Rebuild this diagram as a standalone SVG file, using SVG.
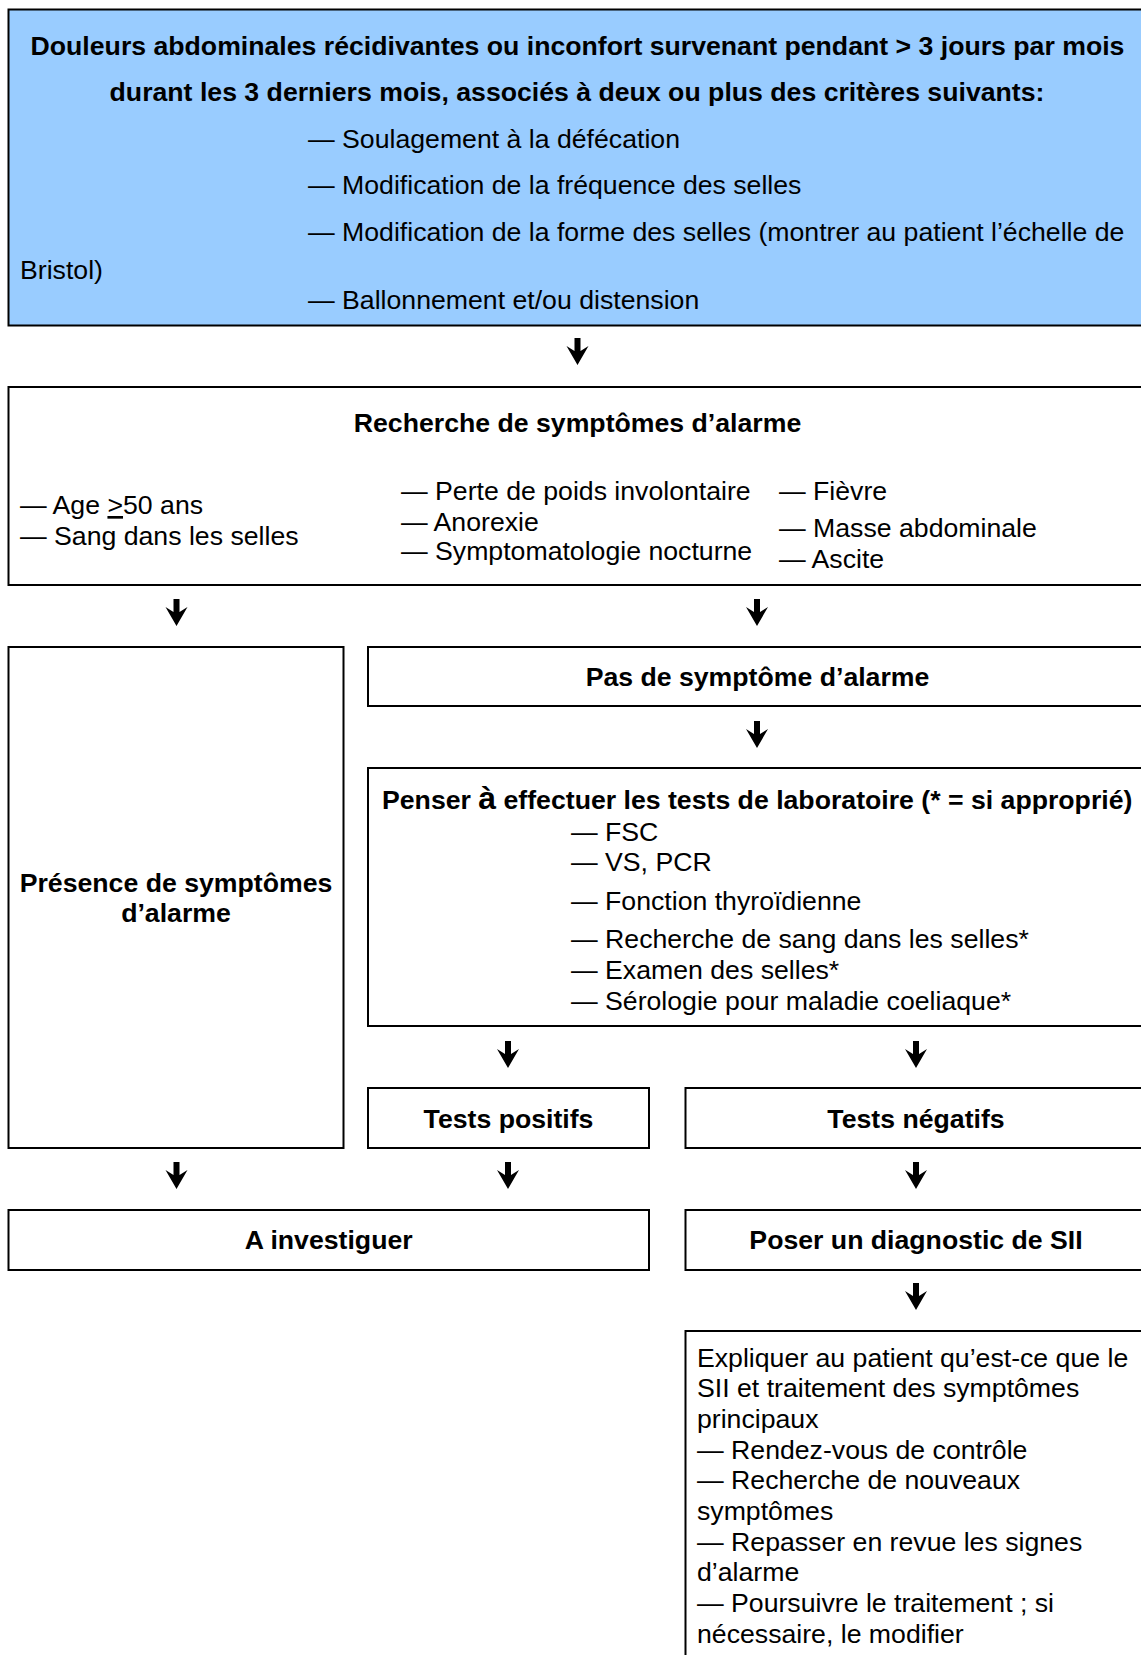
<svg xmlns="http://www.w3.org/2000/svg" xmlns:xlink="http://www.w3.org/1999/xlink" width="1141" height="1655" viewBox="0 0 1141 1655">
<style>
.box{fill:#ffffff;stroke:#000000;stroke-width:2}
.blue{fill:#99CCFF}
.t{font-family:"Liberation Sans",Arial,Helvetica,sans-serif;font-size:26.67px;fill:#000000}
.b{font-weight:bold}
.m{text-anchor:middle}
</style>
<defs>
<path id="arrow" d="M-3,0 H3 V13 L11,8 L0,27 L-11,8 L-3,13 Z" fill="#000000"/>
</defs>
<rect width="1141" height="1655" fill="#ffffff"/>

<g id="node-criteria">
<rect class="box blue" x="8.5" y="9.5" width="1140" height="316"/>
<text class="t b m" x="577.5" y="55">Douleurs abdominales récidivantes ou inconfort survenant pendant &gt; 3 jours par mois</text>
<text class="t b m" x="577" y="101">durant les 3 derniers mois, associés à deux ou plus des critères suivants:</text>
<text class="t" x="308" y="148">— Soulagement à la défécation</text>
<text class="t" x="308" y="194">— Modification de la fréquence des selles</text>
<text class="t" x="308" y="241">— Modification de la forme des selles (montrer au patient l’échelle de</text>
<text class="t" x="20" y="279">Bristol)</text>
<text class="t" x="308" y="309">— Ballonnement et/ou distension</text>
</g>

<g id="node-recherche">
<rect class="box" x="8.5" y="387" width="1140" height="198"/>
<text class="t b m" x="577.5" y="432">Recherche de symptômes d’alarme</text>
<text class="t" x="20" y="514">— Age <tspan text-decoration="underline">&gt;</tspan>50 ans</text>
<text class="t" x="20" y="545">— Sang dans les selles</text>
<text class="t" x="401" y="500">— Perte de poids involontaire</text>
<text class="t" x="401" y="531">— Anorexie</text>
<text class="t" x="401" y="560">— Symptomatologie nocturne</text>
<text class="t" x="779" y="500">— Fièvre</text>
<text class="t" x="779" y="537">— Masse abdominale</text>
<text class="t" x="779" y="568">— Ascite</text>
</g>

<g id="node-presence">
<rect class="box" x="8.5" y="647" width="335" height="501"/>
<text class="t b m" x="176" y="892">Présence de symptômes</text>
<text class="t b m" x="176" y="922">d’alarme</text>
</g>

<g id="node-pas">
<rect class="box" x="368" y="647" width="780" height="59"/>
<text class="t b m" x="757.5" y="686">Pas de symptôme d’alarme</text>
</g>

<g id="node-tests">
<rect class="box" x="368" y="768" width="780" height="258"/>
<text class="t b" x="382" y="809">Penser <tspan font-size="32">à</tspan> effectuer les tests de laboratoire (* = si approprié)</text>
<text class="t" x="571" y="841">— FSC</text>
<text class="t" x="571" y="871">— VS, PCR</text>
<text class="t" x="571" y="910">— Fonction thyroïdienne</text>
<text class="t" x="571" y="948">— Recherche de sang dans les selles*</text>
<text class="t" x="571" y="979">— Examen des selles*</text>
<text class="t" x="571" y="1010">— Sérologie pour maladie coeliaque*</text>
</g>

<g id="node-positifs">
<rect class="box" x="368" y="1088" width="281" height="60"/>
<text class="t b m" x="508.5" y="1128">Tests positifs</text>
</g>

<g id="node-negatifs">
<rect class="box" x="685.5" y="1088" width="462" height="60"/>
<text class="t b m" x="916" y="1128">Tests négatifs</text>
</g>

<g id="node-investiguer">
<rect class="box" x="8.5" y="1210" width="640.5" height="60"/>
<text class="t b m" x="328.7" y="1249">A investiguer</text>
</g>

<g id="node-diagnostic">
<rect class="box" x="685.5" y="1210" width="462" height="60"/>
<text class="t b m" x="916" y="1249">Poser un diagnostic de SII</text>
</g>

<g id="node-expliquer">
<rect class="box" x="685.5" y="1331" width="462" height="400"/>
<text class="t" x="697" y="1366.5">Expliquer au patient qu’est-ce que le</text>
<text class="t" x="697" y="1397.2">SII et traitement des symptômes</text>
<text class="t" x="697" y="1427.9">principaux</text>
<text class="t" x="697" y="1458.6">— Rendez-vous de contrôle</text>
<text class="t" x="697" y="1489.3">— Recherche de nouveaux</text>
<text class="t" x="697" y="1520">symptômes</text>
<text class="t" x="697" y="1550.7">— Repasser en revue les signes</text>
<text class="t" x="697" y="1581.4">d’alarme</text>
<text class="t" x="697" y="1612.1">— Poursuivre le traitement ; si</text>
<text class="t" x="697" y="1642.8">nécessaire, le modifier</text>
</g>

<g id="connectors">
<use xlink:href="#arrow" x="577.5" y="338"/>
<use xlink:href="#arrow" x="176.5" y="599"/>
<use xlink:href="#arrow" x="757" y="599"/>
<use xlink:href="#arrow" x="757" y="721"/>
<use xlink:href="#arrow" x="508" y="1041"/>
<use xlink:href="#arrow" x="916" y="1041"/>
<use xlink:href="#arrow" x="176.5" y="1162"/>
<use xlink:href="#arrow" x="508" y="1162"/>
<use xlink:href="#arrow" x="916" y="1162"/>
<use xlink:href="#arrow" x="916" y="1283"/>
</g>
</svg>
